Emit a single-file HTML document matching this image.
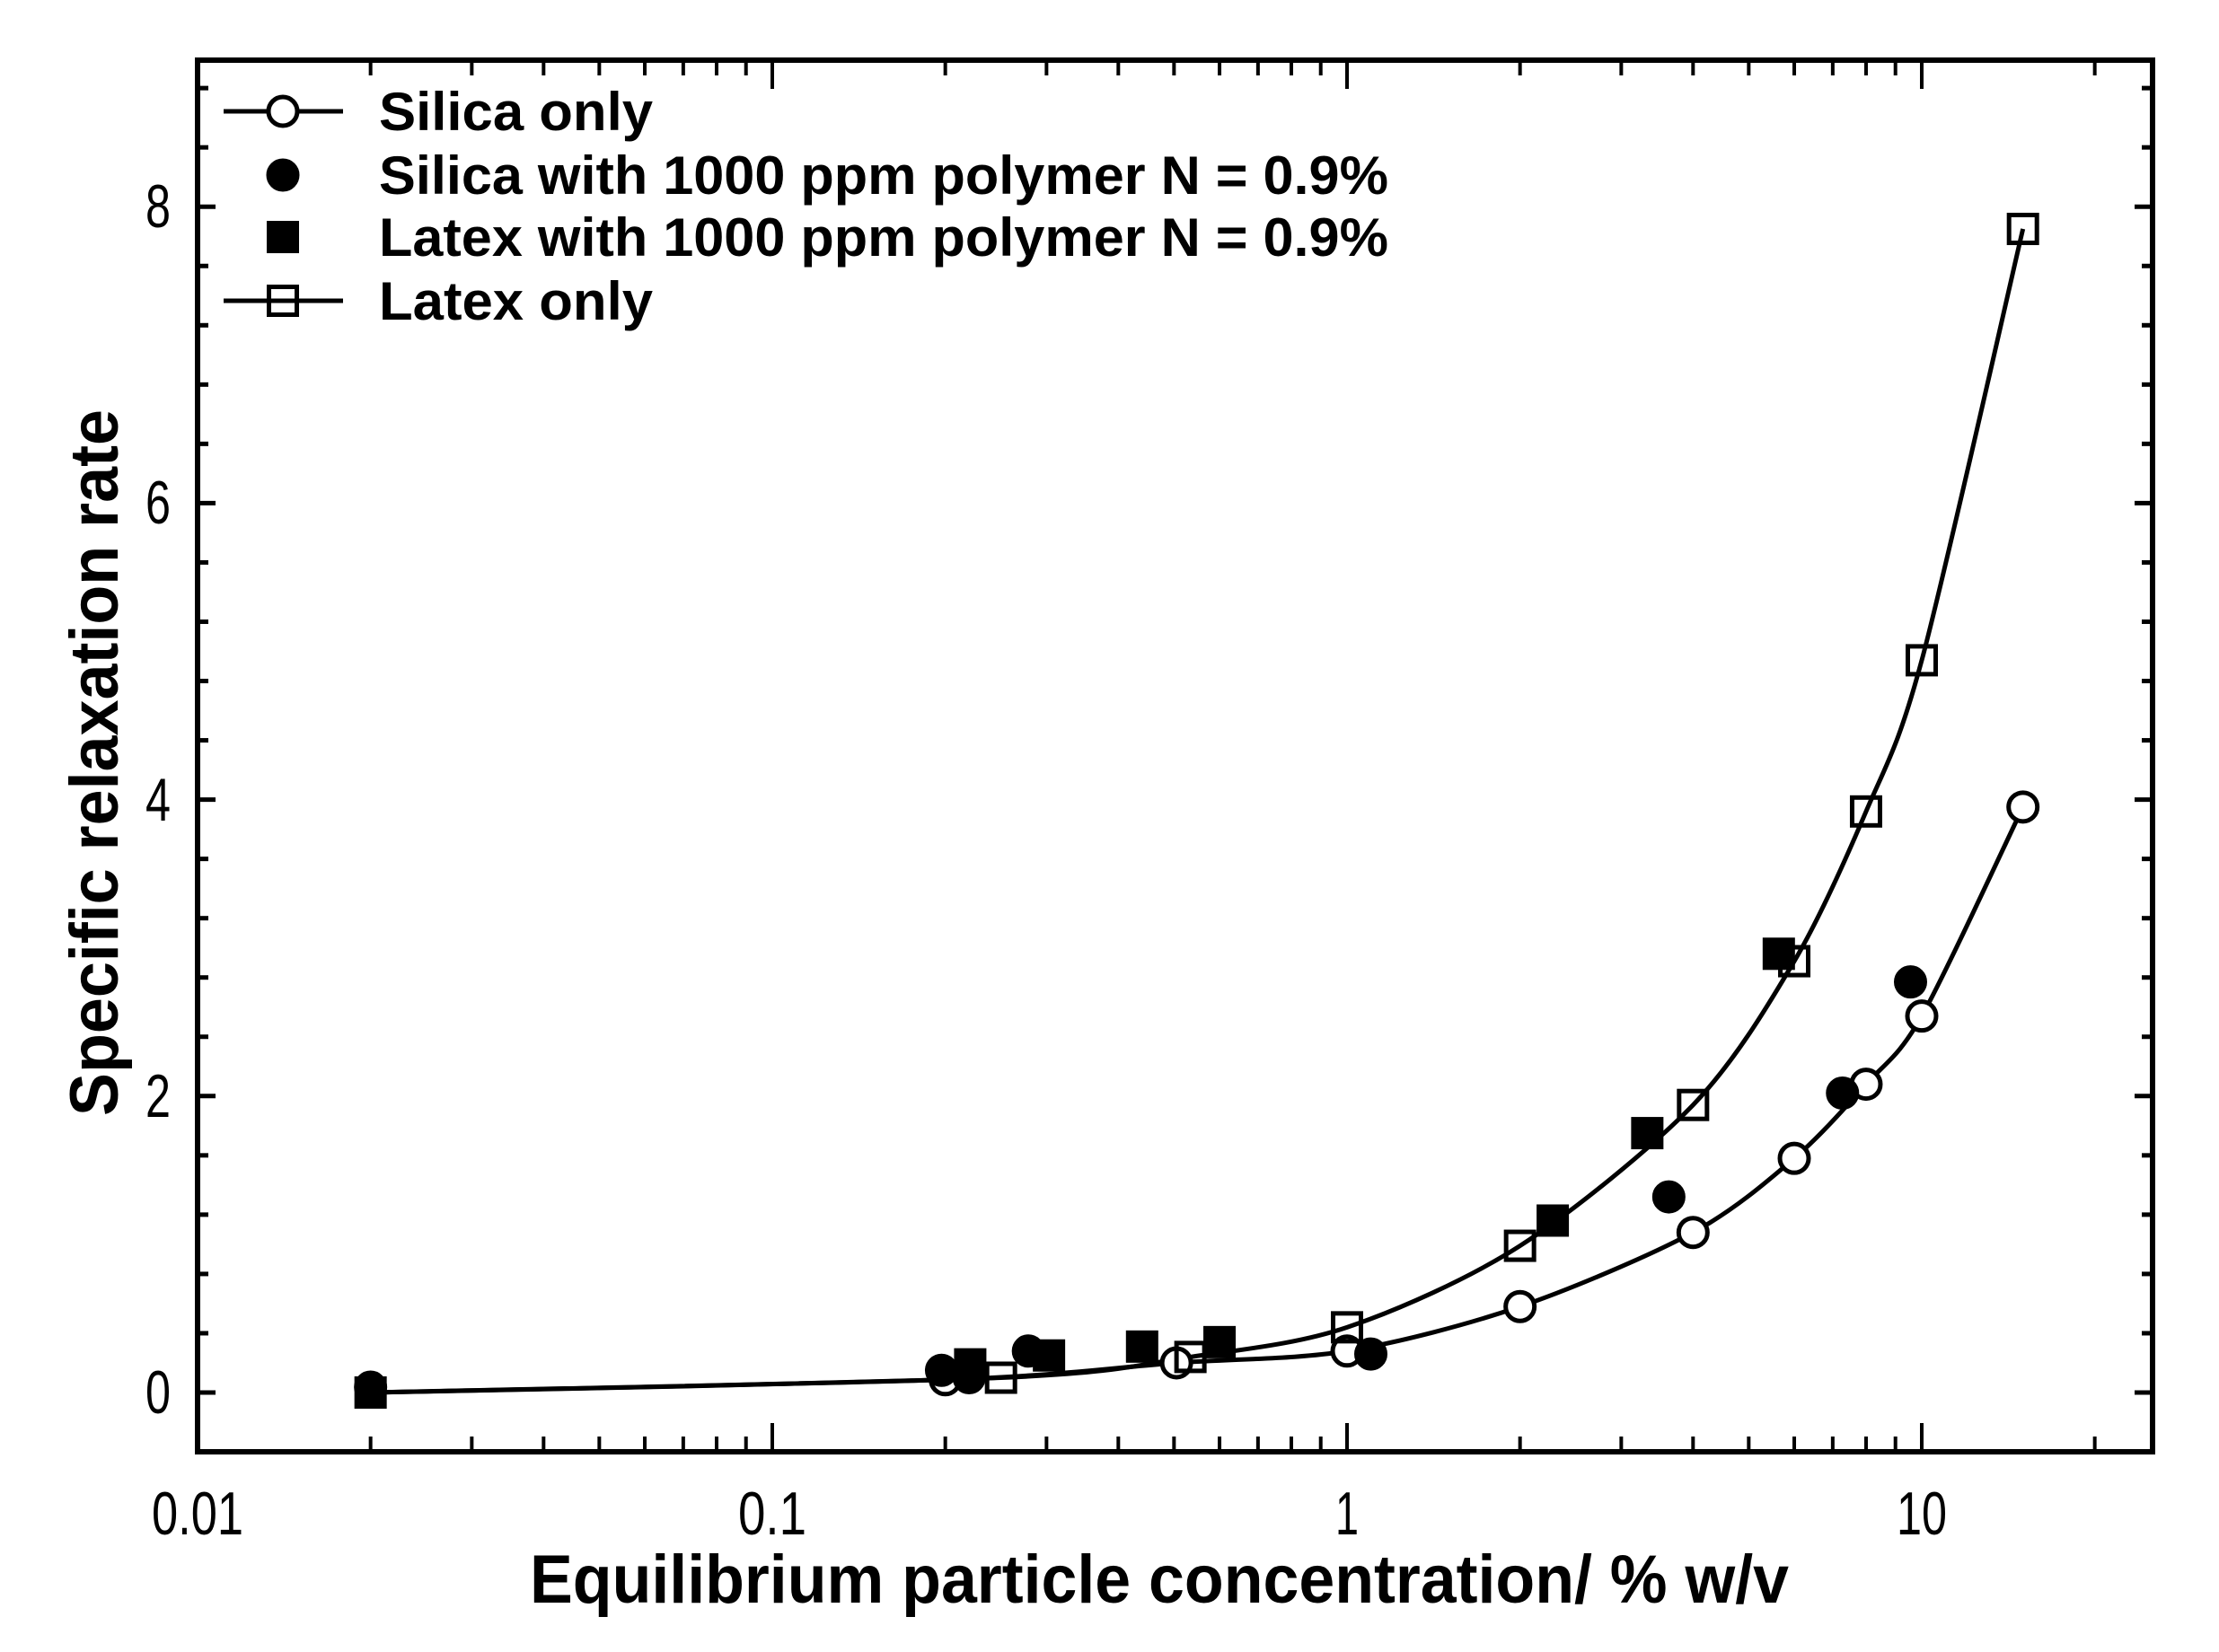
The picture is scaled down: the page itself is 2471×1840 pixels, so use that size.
<!DOCTYPE html>
<html><head><meta charset="utf-8"><style>
html,body{margin:0;padding:0;background:#fff;}
svg{display:block;}
text{font-family:"Liberation Sans",Arial,sans-serif;fill:#000;}
</style></head><body>
<svg id="s" width="2471" height="1840" viewBox="0 0 2471 1840" xmlns="http://www.w3.org/2000/svg">
<rect width="2471" height="1840" fill="#fff"/>
<g id="plot"></g>
<g font-size="68">
<text x="220" y="1709" text-anchor="middle" textLength="102" lengthAdjust="spacingAndGlyphs">0.01</text>
<text x="860" y="1709" text-anchor="middle" textLength="76" lengthAdjust="spacingAndGlyphs">0.1</text>
<text x="1500" y="1709" text-anchor="middle" textLength="26" lengthAdjust="spacingAndGlyphs">1</text>
<text x="2140" y="1709" text-anchor="middle" textLength="56" lengthAdjust="spacingAndGlyphs">10</text>
<text x="176" y="1574" text-anchor="middle" textLength="28" lengthAdjust="spacingAndGlyphs">0</text>
<text x="176" y="1244" text-anchor="middle" textLength="28" lengthAdjust="spacingAndGlyphs">2</text>
<text x="176" y="914" text-anchor="middle" textLength="28" lengthAdjust="spacingAndGlyphs">4</text>
<text x="176" y="583" text-anchor="middle" textLength="28" lengthAdjust="spacingAndGlyphs">6</text>
<text x="176" y="253" text-anchor="middle" textLength="28" lengthAdjust="spacingAndGlyphs">8</text>
</g>
<text x="590" y="1785" font-size="76" font-weight="bold" textLength="1402" lengthAdjust="spacingAndGlyphs">Equilibrium particle concentration/ % w/v</text>
<text transform="translate(131,1243) rotate(-90)" x="0" y="0" font-size="76" font-weight="bold" textLength="787" lengthAdjust="spacingAndGlyphs">Specific relaxation rate</text>
<g font-size="60" font-weight="bold">
<text x="422" y="145" textLength="305" lengthAdjust="spacingAndGlyphs">Silica only</text>
<text x="422" y="216" textLength="1124" lengthAdjust="spacingAndGlyphs">Silica with 1000 ppm polymer N = 0.9%</text>
<text x="422" y="285" textLength="1124" lengthAdjust="spacingAndGlyphs">Latex with 1000 ppm polymer N = 0.9%</text>
<text x="422" y="356" textLength="305" lengthAdjust="spacingAndGlyphs">Latex only</text>
</g>
</svg>
<script>
(function(){
var NS="http://www.w3.org/2000/svg",g=document.getElementById("plot");
function X(v){return 220+640*(Math.log10(v)+2);}
function Y(v){return 1551-165.1*v;}
function el(t,a){var e=document.createElementNS(NS,t);for(var k in a)e.setAttribute(k,a[k]);g.appendChild(e);return e;}
var L=220,R=2397,T=67,B=1617;
el("rect",{x:L,y:T,width:R-L,height:B-T,fill:"none",stroke:"#000","stroke-width":6});
for(var d=-2;d<=1;d++){for(var m=1;m<=9;m++){var v=m*Math.pow(10,d);var x=X(v);if(x<L-1||x>R+1)continue;var len=(m==1)?32:17;
el("line",{x1:x,y1:B,x2:x,y2:B-len,stroke:"#000","stroke-width":4});
el("line",{x1:x,y1:T,x2:x,y2:T+len,stroke:"#000","stroke-width":4});}}
for(var i=-1;i<=22;i++){var v=i*0.4;var y=Y(v);if(y<T-1||y>B+1)continue;var major=Math.abs(v/2-Math.round(v/2))<1e-6;var len=major?20:12;
el("line",{x1:L,y1:y,x2:L+len,y2:y,stroke:"#000","stroke-width":5});
el("line",{x1:R,y1:y,x2:R-len,y2:y,stroke:"#000","stroke-width":5});}
var silica=[[0.02,0],[0.2,0.086],[0.505,0.2],[1,0.28],[2,0.58],[4,1.08],[6,1.58],[8,2.08],[10,2.54],[15,3.95]];
var latex=[[0.02,0],[0.25,0.1],[0.534,0.24],[1,0.44],[2,0.99],[4,1.94],[6,2.91],[8,3.92],[10,4.94],[15,7.85]];
function line(p){var P=p.map(function(q){return [X(q[0]),Y(q[1])];});var s="M"+P[0][0]+","+P[0][1];
for(var i=0;i<P.length-1;i++){var p0=P[Math.max(0,i-1)],p1=P[i],p2=P[i+1],p3=P[Math.min(P.length-1,i+2)];var t=0.15;
s+=" C"+(p1[0]+(p2[0]-p0[0])*t)+","+(p1[1]+(p2[1]-p0[1])*t)+" "+(p2[0]-(p3[0]-p1[0])*t)+","+(p2[1]-(p3[1]-p1[1])*t)+" "+p2[0]+","+p2[1];}
el("path",{d:s,fill:"none",stroke:"#000","stroke-width":5,"stroke-linejoin":"round"});}
line(silica);line(latex);
function circ(x,y,f){el("circle",{cx:x,cy:y,r:f?18:16,fill:f?"#000":"#fff",stroke:"#000","stroke-width":f?1:5});}
function sq(x,y,f){if(f)el("rect",{x:x-18,y:y-18,width:36,height:36,fill:"#000"});else el("rect",{x:x-15.5,y:y-15.5,width:31,height:31,fill:"none",stroke:"#000","stroke-width":5});}
silica.slice(1).forEach(function(q){circ(X(q[0]),Y(q[1]),false);});
latex.slice(1).forEach(function(q){sq(X(q[0]),Y(q[1]),false);});
[[0.02,0.036],[0.197,0.15],[0.22,0.1],[0.279,0.28],[1.1,0.26],[3.63,1.32],[7.28,2.02],[9.56,2.77]].forEach(function(q){circ(X(q[0]),Y(q[1]),true);});
[[0.02,0],[0.221,0.19],[0.303,0.25],[0.44,0.31],[0.6,0.34],[2.28,1.16],[3.33,1.75],[5.64,2.96]].forEach(function(q){sq(X(q[0]),Y(q[1]),true);});
el("line",{x1:249,y1:124,x2:382,y2:124,stroke:"#000","stroke-width":5});circ(315,124,false);
circ(315,195,true);sq(315,264,true);
el("line",{x1:249,y1:335,x2:382,y2:335,stroke:"#000","stroke-width":5});sq(315,335,false);
})();
</script>
</body></html>
